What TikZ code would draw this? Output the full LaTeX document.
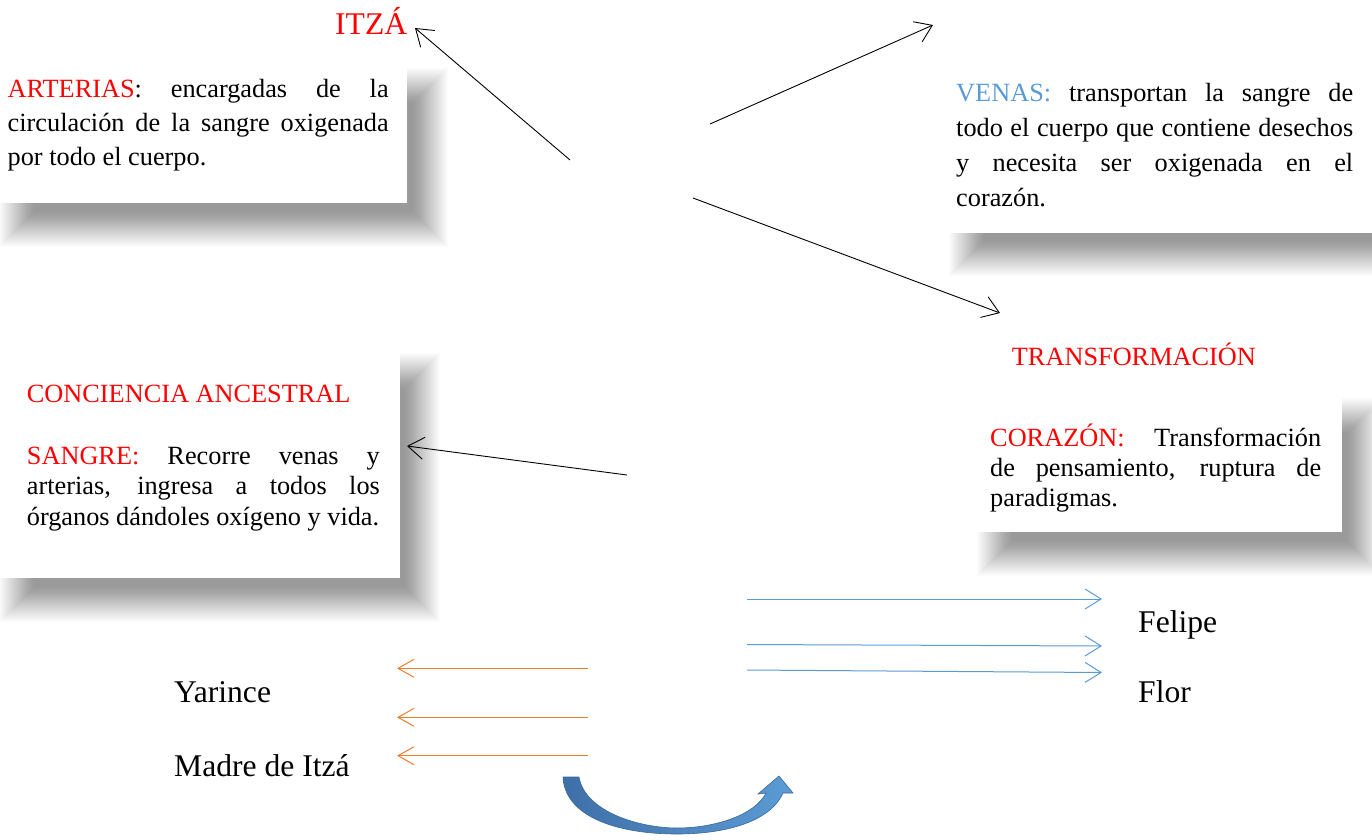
\documentclass[tikz,border=0pt]{standalone}
\usepackage{fontspec}
\setmainfont{Liberation Serif}
\usetikzlibrary{arrows.meta}
\definecolor{venasblue}{HTML}{5B9BD5}
\definecolor{orangear}{HTML}{ED7D31}
\definecolor{curvdark}{HTML}{3F6FA8}
\definecolor{curvlight}{HTML}{5B9BD5}
\definecolor{curvedge}{HTML}{3B6894}
\newcommand\softshadow[4]{%
  \foreach \k in {0,...,35}{%
    \pgfmathsetmacro\e{18-\k}%
    \fill[black,opacity=0.0105] (#1-\e,#2-\e) rectangle (#3+\e,#4+\e);
  }%
}
\tolerance=9999
\begin{document}
\begin{tikzpicture}[x=1pt,y=-1pt,
  para/.style={anchor=base west, inner sep=0pt, align=justify},
  bigtext/.style={anchor=base west, inner sep=0pt, font=\fontsize{31.6}{38}\selectfont},
  blk/.style={draw=black, line width=0.9pt, -{Straight Barb[length=16pt,width=22pt]}},
  bluear/.style={draw=venasblue, line width=1pt, -{Straight Barb[length=16pt,width=20pt]}},
  orar/.style={draw=orangear, line width=1pt, -{Straight Barb[length=16pt,width=18pt]}},
  boxfill/.style={fill=white}
]
\useasboundingbox (0,0) rectangle (1372,839);
\fill[white] (0,0) rectangle (1372,839);

% shadows
\softshadow{17}{86}{430}{229}
\softshadow{967}{86}{1400}{258}
\softshadow{17}{371}{422}{604}
\softshadow{995}{416}{1364}{558}

% white boxes
\fill[boxfill] (-5,60) rectangle (407.3,203.3);
\fill[boxfill] (945,60) rectangle (1380,232.7);
\fill[boxfill] (-5,345) rectangle (400,578.3);
\fill[boxfill] (973,390) rectangle (1341.7,531.7);

% texts
\node[bigtext, text=red] (itza) at (335,34.5) {ITZÁ};

\node[para, text width=381pt, font=\fontsize{26.3}{34.2}\selectfont] (arterias) at (7.5,97.3)
  {{\color{red}ARTERIAS}: encargadas de la\linebreak circulación de la sangre oxigenada\linebreak por todo el cuerpo.};

\node[para, text width=397pt, font=\fontsize{26.3}{35}\selectfont] (venas) at (956,101.7)
  {{\color{venasblue}VENAS:} transportan la sangre de\linebreak todo el cuerpo que contiene desechos\linebreak y necesita ser oxigenada en el\linebreak corazón.};

\node[para, font=\fontsize{26.3}{31}\selectfont, text=red] (conciencia) at (26.7,402.3) {CONCIENCIA ANCESTRAL};

\node[para, text width=353pt, font=\fontsize{26.3}{30.6}\selectfont] (sangre) at (26.7,464.3)
  {{\color{red}SANGRE:} Recorre venas y\linebreak arterias, ingresa a todos los\linebreak órganos dándoles oxígeno y vida.};

\node[para, font=\fontsize{26.3}{31}\selectfont, text=red] (transf) at (1011.7,365.7) {TRANSFORMACIÓN};

\node[para, text width=331pt, font=\fontsize{26.3}{30.4}\selectfont] (corazon) at (990,446)
  {{\color{red}CORAZÓN:} Transformación\linebreak de pensamiento, ruptura de\linebreak paradigmas.};

\node[bigtext] (felipe) at (1138,632) {Felipe};
\node[bigtext] (flor) at (1138,702) {Flor};
\node[bigtext] (yarince) at (174,702) {Yarince};
\node[bigtext] (madre) at (174,776) {Madre de Itzá};

% black arrows
\coordinate (a1s) at (570,160); \coordinate (a1e) at (415,28);
\coordinate (a2s) at (710,124); \coordinate (a2e) at (933,25);
\coordinate (a3s) at (693,198); \coordinate (a3e) at (1000,313);
\coordinate (a4s) at (627,475); \coordinate (a4e) at (407,446);
\draw[blk] (a1s) -- (a1e);
\draw[blk] (a2s) -- (a2e);
\draw[blk] (a3s) -- (a3e);
\draw[blk] (a4s) -- (a4e);

% blue arrows
\coordinate (b1s) at (747,599); \coordinate (b1e) at (1102,599);
\coordinate (b2s) at (747,644.5); \coordinate (b2e) at (1102,646);
\coordinate (b3s) at (747,670); \coordinate (b3e) at (1102,672.5);
\draw[bluear] (b1s) -- (b1e);
\draw[bluear] (b2s) -- (b2e);
\draw[bluear] (b3s) -- (b3e);

% orange arrows
\coordinate (o1s) at (588,668.3); \coordinate (o1e) at (397,668.3);
\coordinate (o2s) at (588,717.3); \coordinate (o2e) at (397,717.3);
\coordinate (o3s) at (588,755.7); \coordinate (o3e) at (397,755.7);
\draw[orar] (o1s) -- (o1e);
\draw[orar] (o2s) -- (o2e);
\draw[orar] (o3s) -- (o3e);

% curved block arrow
\shade[left color=curvdark, right color=curvlight, draw=curvedge, line width=0.6pt, line join=miter]
  (563,777) -- (579,777) .. controls (585,812) and (640,828) .. (677,828)
  .. controls (715,828) and (755,815) .. (766,793) -- (758,794) -- (779,776)
  -- (793,793) -- (783,793) .. controls (770,822) and (725,834) .. (677,834)
  .. controls (620,834) and (565,818) .. (563,777) -- cycle;
\end{tikzpicture}
\end{document}
